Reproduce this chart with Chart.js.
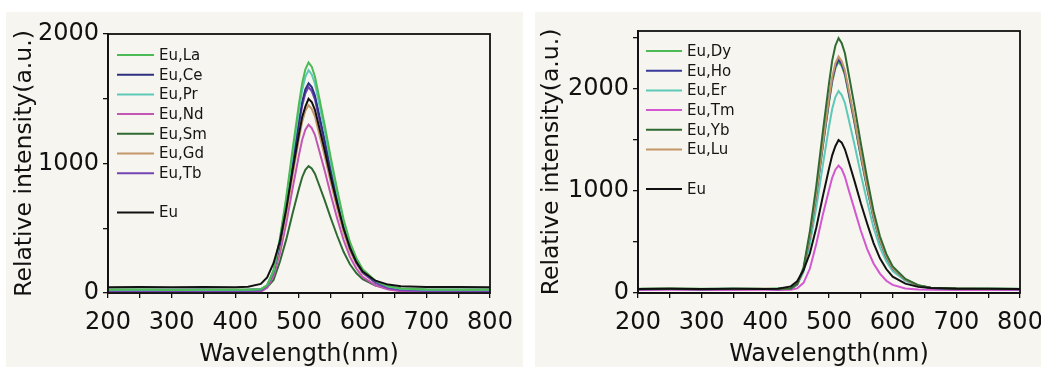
<!DOCTYPE html>
<html>
<head>
<meta charset="utf-8">
<script src="https://cdn.jsdelivr.net/npm/chart.js@4.4.0/dist/chart.umd.min.js"></script>
<style>
  html, body { margin: 0; padding: 0; background: #ffffff; overflow: hidden; width: 1041px; height: 367px; }
  canvas { position: absolute; background: #f6f5ef; }
  #c1 { left: 6px; top: 12px; }
  #c2 { left: 535px; top: 12px; }
</style>
</head>
<body>
<canvas id="c1" width="517" height="355"></canvas>
<canvas id="c2" width="520" height="355"></canvas>
<script>
// ---- Data ----
const wavelengths = [200,250,300,350,400,420,440,450,460,470,480,490,500,505,510,515,520,525,530,540,550,560,570,580,590,600,620,640,660,700,750,800];

const xTicks = [200,250,300,350,400,450,500,550,600,650,700,750,800];
const xTickLabels = [200,300,400,500,600,700,800];
const yTicksLeft = [0,500,1000,1500,2000];
const yTicksRight = [0,500,1000,1500,2000,2500];
const yTickLabelsLeft = [0,1000,2000];
const yTickLabelsRight = [0,1000,2000];

// Left panel series
const euLa = [25,27,24,26,25,26,28,60,175,420,740,1110,1462,1620,1727,1780,1748,1672,1552,1306,1043,797,569,394,271,183,95,51,34,27,26,25];
const euCe = [25,26,25,27,24,26,28,58,165,392,679,1014,1333,1476,1572,1620,1590,1524,1413,1189,950,727,519,360,248,169,89,49,33,26,25,25];
const euPr = [25,25,26,24,26,25,28,60,170,415,720,1076,1415,1567,1669,1720,1688,1618,1500,1262,1008,771,550,381,262,178,93,50,33,26,25,26];
const euNd = [8,9,7,8,8,9,10,40,130,305,538,809,1067,1184,1261,1300,1274,1222,1132,951,757,576,409,279,189,124,60,27,14,9,8,8];
const euSm = [20,21,19,20,21,20,22,45,100,241,414,615,807,894,951,980,961,922,855,721,577,442,318,222,154,106,58,34,25,21,20,20];
const euGd = [25,26,24,25,26,25,28,58,160,353,609,909,1194,1322,1407,1450,1422,1365,1265,1065,852,652,467,324,225,153,82,46,32,26,25,25];
const euTb = [15,16,14,15,16,15,20,55,165,377,661,992,1307,1448,1543,1590,1559,1496,1385,1165,929,708,503,346,236,157,78,39,23,16,15,15];
const euLeft = [45,47,44,46,45,48,70,120,230,400,650,950,1230,1360,1440,1500,1475,1415,1315,1110,890,690,500,350,240,165,95,65,52,47,46,45];

// Right panel series
const euDy = [42,43,41,42,41,43,46,86,228,552,955,1423,1868,2070,2203,2270,2225,2136,1980,1668,1333,1020,732,509,352,241,130,74,52,44,42,42];
const euHo = [38,40,37,39,40,38,42,82,230,556,962,1435,1885,2088,2222,2290,2245,2155,1998,1682,1345,1030,738,513,355,242,130,73,50,41,39,38];
const euEr = [40,41,40,42,39,41,44,80,205,486,835,1243,1631,1805,1922,1980,1941,1864,1728,1456,1165,894,641,447,312,215,118,69,50,42,41,40];
const euTm = [30,31,29,30,31,30,32,45,100,240,480,760,1010,1130,1210,1250,1215,1140,1030,820,610,430,290,190,120,80,45,35,31,30,30,30];
const euYb = [40,42,38,41,40,41,45,90,250,606,1049,1565,2057,2279,2426,2500,2451,2352,2180,1836,1467,1122,803,557,384,261,138,77,52,43,41,40];
const euLu = [40,41,39,40,42,40,44,85,235,564,975,1454,1910,2115,2252,2320,2274,2183,2024,1704,1362,1043,747,519,359,245,131,74,51,43,40,40];
const euRight = [40,42,39,41,40,42,65,115,225,390,640,940,1220,1350,1440,1500,1475,1410,1310,1100,880,680,490,340,235,160,92,60,48,42,41,40];

const leftLabels = ['Eu,La','Eu,Ce','Eu,Pr','Eu,Nd','Eu,Sm','Eu,Gd','Eu,Tb','Eu'];
const rightLabels = ['Eu,Dy','Eu,Ho','Eu,Er','Eu,Tm','Eu,Yb','Eu,Lu','Eu'];

const FONT = "'DejaVu Sans', sans-serif";

function toPts(vals) { return wavelengths.map((w, i) => ({ x: w, y: vals[i] })); }

function mkDataset(label, vals, color) {
  return { label, data: toPts(vals), borderColor: color, backgroundColor: color, borderWidth: 2, pointRadius: 0, tension: 0, fill: false };
}

const framePlugin = {
  id: 'frame',
  afterDraw(chart) {
    const a = chart.chartArea, ctx = chart.ctx;
    ctx.save();
    ctx.strokeStyle = '#111';
    ctx.lineWidth = 1.8;
    ctx.strokeRect(a.left, a.top, a.right - a.left, a.bottom - a.top);
    ctx.restore();
  }
};

const boxLegend = {
  id: 'boxLegend',
  afterDraw(chart, args, opts) {
    const a = chart.chartArea, ctx = chart.ctx;
    ctx.save();
    ctx.font = '15px ' + FONT;
    ctx.textBaseline = 'middle';
    ctx.textAlign = 'left';
    opts.rows.forEach((row) => {
      const ds = chart.data.datasets[row.ds];
      const y = a.top + opts.firstRow + row.slot * opts.rowStep;
      ctx.strokeStyle = ds.borderColor;
      ctx.lineWidth = 2;
      ctx.beginPath();
      ctx.moveTo(a.left + opts.lineStart, y);
      ctx.lineTo(a.left + opts.lineEnd, y);
      ctx.stroke();
      ctx.fillStyle = '#151515';
      ctx.fillText(ds.label, a.left + opts.textX, y + 1);
    });
    ctx.restore();
  }
};

function makeChart(id, datasets, yMax, yTicks, yLabels, yWidth, padding, titlePadY, legendOpts) {
  return new Chart(document.getElementById(id), {
    type: 'line',
    data: { datasets },
    plugins: [framePlugin, boxLegend],
    options: {
      responsive: false,
      animation: false,
      layout: { padding },
      plugins: { legend: { display: false }, tooltip: { enabled: false }, boxLegend: legendOpts },
      scales: {
        x: {
          type: 'linear', min: 200, max: 800,
          afterFit: (s) => { s.height = 74; },
          afterBuildTicks: (s) => { s.ticks = xTicks.map((v) => ({ value: v })); },
          ticks: {
            autoSkip: false, maxRotation: 0, padding: 10,
            color: '#111', font: { family: FONT, size: 24 },
            callback: (v) => xTickLabels.includes(v) ? String(v) : ''
          },
          grid: { drawOnChartArea: false, drawTicks: true, tickLength: 5, color: '#111', lineWidth: 1.3 },
          border: { display: true, color: '#111', width: 1.8 },
          title: { display: true, text: 'Wavelength(nm)', color: '#111', font: { family: FONT, size: 24, lineHeight: 1.1 }, padding: { top: 0, bottom: -1 } }
        },
        y: {
          type: 'linear', min: 0, max: yMax,
          afterFit: (s) => { s.width = yWidth; },
          afterBuildTicks: (s) => { s.ticks = yTicks.map((v) => ({ value: v })); },
          ticks: {
            autoSkip: false, padding: 4,
            color: '#111', font: { family: FONT, size: 24 },
            callback: (v) => yLabels.includes(v) ? String(v) : ''
          },
          grid: { drawOnChartArea: false, drawTicks: true, tickLength: 5, color: '#111', lineWidth: 1.3 },
          border: { display: true, color: '#111', width: 1.8 },
          title: { display: true, text: 'Relative intensity(a.u.)', color: '#111', font: { family: FONT, size: 23.5, lineHeight: 1.2 }, padding: { top: titlePadY, bottom: 0 } }
        }
      }
    }
  });
}

// Left chart (dataset 0 drawn on top in Chart.js)
const leftDatasets = [
  mkDataset(leftLabels[7], euLeft, '#111111'),
  mkDataset(leftLabels[0], euLa, '#4dbb55'),
  mkDataset(leftLabels[2], euPr, '#5ec9b9'),
  mkDataset(leftLabels[1], euCe, '#2d2f80'),
  mkDataset(leftLabels[6], euTb, '#7343b5'),
  mkDataset(leftLabels[5], euGd, '#c4966a'),
  mkDataset(leftLabels[3], euNd, '#c355b5'),
  mkDataset(leftLabels[4], euSm, '#2f6a33')
];
makeChart('c1', leftDatasets, 2000, yTicksLeft, yTickLabelsLeft, 102, { left: 0, top: 22, right: 33, bottom: 0 }, 5, {
  firstRow: 21, rowStep: 19.7, lineStart: 9, lineEnd: 46, textX: 51,
  rows: [ {ds:1,slot:0},{ds:3,slot:1},{ds:2,slot:2},{ds:6,slot:3},{ds:7,slot:4},{ds:5,slot:5},{ds:4,slot:6},{ds:0,slot:8} ]
});

// Right chart
const rightDatasets = [
  mkDataset(rightLabels[6], euRight, '#111111'),
  mkDataset(rightLabels[4], euYb, '#2f6a33'),
  mkDataset(rightLabels[5], euLu, '#c4966a'),
  mkDataset(rightLabels[1], euHo, '#3a3a9a'),
  mkDataset(rightLabels[0], euDy, '#4dbb55'),
  mkDataset(rightLabels[2], euEr, '#5ec9b9'),
  mkDataset(rightLabels[3], euTm, '#d357d0')
];
makeChart('c2', rightDatasets, 2570, yTicksRight, yTickLabelsRight, 103, { left: 0, top: 19, right: 35, bottom: 0 }, 3, {
  firstRow: 20, rowStep: 19.7, lineStart: 8, lineEnd: 44, textX: 49,
  rows: [ {ds:4,slot:0},{ds:3,slot:1},{ds:5,slot:2},{ds:6,slot:3},{ds:1,slot:4},{ds:2,slot:5},{ds:0,slot:7} ]
});
</script>
</body>
</html>
